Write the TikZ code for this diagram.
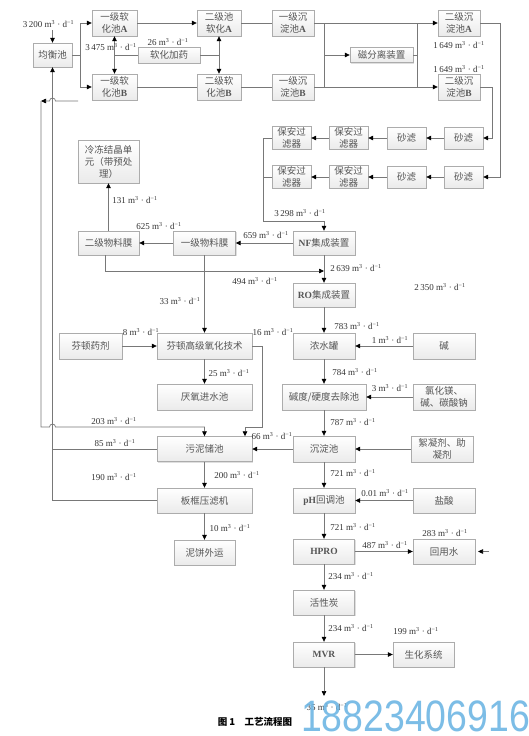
\documentclass[tikz,border=0pt]{standalone}
\usepackage{fontspec}
\setmainfont{Liberation Serif}
\newfontfamily\cjk{Noto Sans CJK SC}
\newfontfamily\wmfont{Liberation Sans}
\usetikzlibrary{arrows.meta,shadows,calc}
\definecolor{wm}{RGB}{110,182,228}
\definecolor{ln}{RGB}{120,120,120}
\definecolor{tx}{RGB}{85,85,85}
\newcommand\lat[1]{{\rmfamily\bfseries #1}}
\newcommand\fl[1]{#1 m\textsuperscript{3} · d\textsuperscript{−1}}
\begin{document}
\begin{tikzpicture}[x=1pt,y=-1pt,
 box/.style={draw=gray!65, top color=white, bottom color=gray!16,
   drop shadow={opacity=0.25,shadow xshift=1pt,shadow yshift=-1pt},
   inner sep=1pt, align=center, text=tx,
   font=\cjk\fontsize{9.5}{12}\selectfont},
 lab/.style={font=\fontsize{9}{10}\selectfont, text=black!80, inner sep=0pt},
 line/.style={draw=ln, line width=0.7pt},
 arr/.style={line, -{Triangle[length=5pt,width=4.5pt,color=black]}},
 darr/.style={line, {Triangle[length=5pt,width=4.5pt,color=black]}-{Triangle[length=5pt,width=4.5pt,color=black]}},
]
\useasboundingbox[fill=white] (0,0) rectangle (529,736);

% ---------- top section ----------
\node[box,minimum width=39,minimum height=24] (jh) at (52.5,55) {均衡池};
\node[box,minimum width=45,minimum height=26] (r1a) at (114.5,23) {一级软\\化池\lat{A}};
\node[box,minimum width=45,minimum height=26] (r1b) at (114.5,87) {一级软\\化池\lat{B}};
\node[box,minimum width=44,minimum height=26] (r2a) at (219,23) {二级池\\软化\lat{A}};
\node[box,minimum width=44,minimum height=26] (r2b) at (219,87) {二级软\\化池\lat{B}};
\node[box,minimum width=62,minimum height=16] (jy) at (169,55) {软化加药};
\node[box,minimum width=42,minimum height=26] (s1a) at (293,23) {一级沉\\淀池\lat{A}};
\node[box,minimum width=42,minimum height=26] (s1b) at (293,87) {一级沉\\淀池\lat{B}};
\node[box,minimum width=63,minimum height=15] (cf) at (381.5,55) {磁分离装置};
\node[box,minimum width=42,minimum height=26] (s2a) at (459,23) {二级沉\\淀池\lat{A}};
\node[box,minimum width=42,minimum height=26] (s2b) at (459,87) {二级沉\\淀池\lat{B}};

% filters
\node[box,minimum width=39,minimum height=22] (sl2a) at (463.5,138) {砂滤};
\node[box,minimum width=39,minimum height=22] (sl1a) at (406.5,138) {砂滤};
\node[box,minimum width=39,minimum height=22] (bh2a) at (348.5,138) {保安过\\滤器};
\node[box,minimum width=39,minimum height=22] (bh1a) at (291.5,138) {保安过\\滤器};
\node[box,minimum width=39,minimum height=22] (sl2b) at (463.5,177) {砂滤};
\node[box,minimum width=39,minimum height=22] (sl1b) at (406.5,177) {砂滤};
\node[box,minimum width=39,minimum height=22] (bh2b) at (348.5,177) {保安过\\滤器};
\node[box,minimum width=39,minimum height=22] (bh1b) at (291.5,177) {保安过\\滤器};

% membranes
\node[box,minimum width=62,minimum height=24] (nf) at (324,243) {\lat{NF}集成装置};
\node[box,minimum width=62,minimum height=24] (yw1) at (204.5,243) {一级物料膜};
\node[box,minimum width=61,minimum height=24] (yw2) at (108.5,243) {二级物料膜};
\node[box,minimum width=61,minimum height=43] (ld) at (108.5,161.5) {冷冻结晶单\\元（带预处\\理）};
\node[box,minimum width=62,minimum height=24] (ro) at (324,295) {\lat{RO}集成装置};

% left middle
\node[box,minimum width=63,minimum height=26] (fy) at (90.5,346) {芬顿药剂};
\node[box,minimum width=95,minimum height=26] (fd) at (204.5,346) {芬顿高级氧化技术};
\node[box,minimum width=95,minimum height=26] (ay) at (204.5,397) {厌氧进水池};
\node[box,minimum width=95,minimum height=25] (wn) at (204.5,449) {污泥储池};
\node[box,minimum width=95,minimum height=25] (bk) at (204.5,500.5) {板框压滤机};
\node[box,minimum width=61,minimum height=25] (nb) at (204.5,552.5) {泥饼外运};

% right column
\node[box,minimum width=62,minimum height=26] (ns) at (324,346) {浓水罐};
\node[box,minimum width=62,minimum height=26] (jian) at (444,346) {碱};
\node[box,minimum width=84,minimum height=26] (jd) at (324,397) {碱度/硬度去除池};
\node[box,minimum width=62,minimum height=26] (lh) at (444,397) {氯化镁、\\碱、碳酸钠};
\node[box,minimum width=62,minimum height=26] (cd) at (324,449) {沉淀池};
\node[box,minimum width=62,minimum height=26] (xn) at (442,449) {絮凝剂、助\\凝剂};
\node[box,minimum width=62,minimum height=25] (ph) at (324,500.5) {\lat{pH}回调池};
\node[box,minimum width=62,minimum height=25] (ys) at (444,500.5) {盐酸};
\node[box,minimum width=61,minimum height=25] (hp) at (324,551.5) {\lat{HPRO}};
\node[box,minimum width=62,minimum height=25] (hy) at (444,551.5) {回用水};
\node[box,minimum width=61,minimum height=25] (hx) at (324,602.5) {活性炭};
\node[box,minimum width=61,minimum height=25] (mvr) at (324,654.5) {\lat{MVR}};
\node[box,minimum width=61,minimum height=25] (sh) at (423.5,654.5) {生化系统};

% ---------- coordinates ----------
\coordinate (jx) at (80,55);
\coordinate (feed) at (52.5,30);
\coordinate (c1t) at (324,23);
\coordinate (c1b) at (324,87);
\coordinate (c2t) at (417,23);
\coordinate (c2b) at (417,87);
\coordinate (rA) at (500,23);
\coordinate (rB) at (492,87);
\coordinate (fa) at (263,138);
\coordinate (fb) at (263,177);
\coordinate (fc) at (263,221);
\coordinate (q1) at (105,271);
\coordinate (g1) at (262,427);
\coordinate (g2) at (245,427);
\coordinate (L1) at (52.5,449);
\coordinate (L2) at (52.5,500.5);
\coordinate (K0) at (78,101);
\coordinate (K1) at (41,101);
\coordinate (K2) at (41,427);
\coordinate (K3) at (204.5,427);
\coordinate (hr) at (489,551.5);
\coordinate (hre) at (478,551.5);
\coordinate (mend) at (324,696);

% ---------- connectors ----------
\draw[arr] (feed) -- (jh);
\draw[line] (jh) -- (jx);
\draw[arr] (jx) |- (r1a);
\draw[arr] (jx) |- (r1b);
\draw[darr] (r1a) -- (r1b);
\draw[darr] (r2a) -- (r2b);
\draw[line] (jy.west) -- (jy.west -| r1a);
\draw[line] (jy.east) -- (jy.east -| r2a);
\draw[arr] (r1a) -- (r2a);
\draw[line] (r1b) -- (r2b);
\draw[line] (r2a) -- (s1a);
\draw[line] (r2b) -- (s1b);
\draw[arr] (s1a) -- (s2a);
\draw[arr] (s1b) -- (s2b);
\draw[line] (c1t) -- (c1b);
\draw[line] (c2t) -- (c2b);
\draw[arr] (cf.west -| c1t) -- (cf.west);
\draw[line] (cf.east) -- (cf.east -| c2t);
\draw[arr] (s2a) -- (rA) |- (sl2b);
\draw[arr] (s2b) -- (rB) |- (sl2a);
\draw[arr] (sl2a) -- (sl1a);
\draw[arr] (sl1a) -- (bh2a);
\draw[arr] (bh2a) -- (bh1a);
\draw[arr] (sl2b) -- (sl1b);
\draw[arr] (sl1b) -- (bh2b);
\draw[arr] (bh2b) -- (bh1b);
\draw[line] (bh1a) -- (fa) -- (fc);
\draw[line] (bh1b) -- (fb);
\draw[arr] (fc) -| (nf);
\draw[arr] (nf) -- (yw1);
\draw[arr] (yw1) -- (yw2);
\draw[arr] (yw2) -- (ld);
\draw[arr] (nf) -- (ro);
\draw[arr] (yw2.south -| q1) -- (q1) -- (q1 -| nf);
\draw[arr] (yw1) -- (fd);
\draw[arr] (fy) -- (fd);
\draw[arr] (fd) -- (ay);
\draw[arr] (fd.east) -| (g1) -- (g2) -- (g2 |- wn.north);
\draw[arr] (wn) -- (bk);
\draw[arr] (bk) -- (nb);
\draw[arr] (cd) -- (wn);
\draw[line] (wn) -- (L1);
\draw[line] (bk) -- (L2) -- (L1);
\draw[arr] (L1) -- (jh);
\draw[arr] (K0) -- (55.5,101) arc[start angle=0,end angle=180,radius=3pt] -- (K1);
\draw[arr] (K1) -- (K2) -- (49.5,427) arc[start angle=180,end angle=0,radius=3pt] -- (K3) -- (wn);
\draw[arr] (ro) -- (ns);
\draw[arr] (jian) -- (ns);
\draw[arr] (ns) -- (jd);
\draw[arr] (lh) -- (jd);
\draw[arr] (jd) -- (cd);
\draw[arr] (xn) -- (cd);
\draw[arr] (cd) -- (ph);
\draw[arr] (ys) -- (ph);
\draw[arr] (ph) -- (hp);
\draw[arr] (hp) -- (hy);
\draw[arr] (hr) -- (hre);
\draw[arr] (hp) -- (hx);
\draw[arr] (hx) -- (mvr);
\draw[arr] (mvr) -- (sh);
\draw[arr] (mvr) -- (mend);

% ---------- labels ----------
\node[lab] at (48.5,24) {\fl{3\,200}};
\node[lab] at (111,47) {\fl{3\,475}};
\node[lab] at (168,42) {\fl{26}};
\node[lab] at (459,45) {\fl{1\,649}};
\node[lab] at (459,69) {\fl{1\,649}};
\node[lab] at (300,213) {\fl{3\,298}};
\node[lab] at (266,235) {\fl{659}};
\node[lab] at (159,226) {\fl{625}};
\node[lab] at (135,200) {\fl{131}};
\node[lab] at (356,268) {\fl{2\,639}};
\node[lab] at (255,281) {\fl{494}};
\node[lab] at (440,287) {\fl{2\,350}};
\node[lab] at (180,301) {\fl{33}};
\node[lab] at (141,332) {\fl{8}};
\node[lab] at (273,332) {\fl{16}};
\node[lab] at (229,373) {\fl{25}};
\node[lab] at (114,421) {\fl{203}};
\node[lab] at (115,443) {\fl{85}};
\node[lab] at (272,436) {\fl{66}};
\node[lab] at (237,475) {\fl{200}};
\node[lab] at (114,477) {\fl{190}};
\node[lab] at (230,528) {\fl{10}};
\node[lab] at (357,326) {\fl{783}};
\node[lab] at (390,340) {\fl{1}};
\node[lab] at (355,372) {\fl{784}};
\node[lab] at (390,388) {\fl{3}};
\node[lab] at (353,422) {\fl{787}};
\node[lab] at (353,473) {\fl{721}};
\node[lab] at (385,493) {\fl{0.01}};
\node[lab] at (353,527) {\fl{721}};
\node[lab] at (445,533) {\fl{283}};
\node[lab] at (385,545) {\fl{487}};
\node[lab] at (351,576) {\fl{234}};
\node[lab] at (351,628) {\fl{234}};
\node[lab] at (416,631) {\fl{199}};
\node[lab] at (327,707) {\fl{35}};

% caption and watermark
\node[font=\cjk\bfseries\fontsize{9.5}{11}\selectfont, inner sep=0pt] (cap) at (255,722) {图 1\quad 工艺流程图};
\node[anchor=west, text=wm, opacity=0.9, inner sep=0pt, font=\wmfont\fontsize{44}{44}\selectfont] (wmk) at (301,716) {\scalebox{0.85}[1]{18823406916}};
\end{tikzpicture}
\end{document}
